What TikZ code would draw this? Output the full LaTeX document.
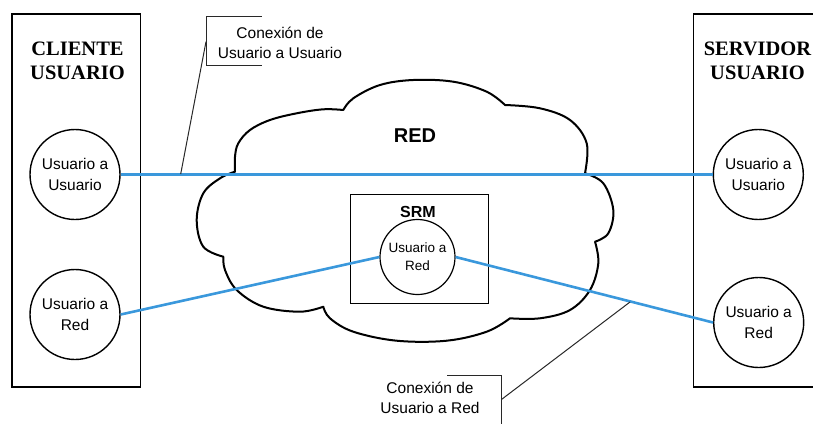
\documentclass[tikz,border=0pt]{standalone}
\usepackage{fontspec}
\setmainfont{Liberation Serif}
\setsansfont{Liberation Sans}
\definecolor{linkblue}{RGB}{58,152,220}
\definecolor{callgray}{RGB}{40,40,40}
\tikzset{
  usr/.style={circle, draw, line width=1.4pt, minimum size=90pt, inner sep=0pt, align=center,
    font=\sffamily\fontsize{15.5}{20.5}\selectfont},
  usrsmall/.style={circle, draw, line width=1.2pt, minimum size=75pt, inner sep=0pt, align=center,
    font=\sffamily\fontsize{13.5}{18}\selectfont},
  sidebox/.style={draw, line width=1.5pt, inner sep=0pt},
  sidetitle/.style={align=center, font=\bfseries\fontsize{20.5}{23.5}\selectfont},
  link/.style={draw=linkblue, line width=2.6pt},
  cloudline/.style={line width=2pt, line join=round},
  calltext/.style={align=center, font=\sffamily\fontsize{15.5}{20}\selectfont},
  bracketline/.style={draw=callgray, line width=1pt},
}
\begin{document}
\begin{tikzpicture}[x=1pt, y=-1pt]
\useasboundingbox (0,0) rectangle (813,423);
\fill[white] (0,0) rectangle (813,423);

% cloud
\draw[cloudline]
  plot[smooth, tension=0.6] coordinates {(235,171.7) (235,156.7) (238.3,143.3) (250,130) (270,120) (296.7,113.3) (323.3,109.3) (343.3,110)}
  -- plot[smooth, tension=0.6] coordinates {(343.3,110) (353.3,98.3) (380,85) (413.3,80) (453.3,81.7) (486.7,91.7) (505,105)}
  -- plot[smooth, tension=0.6] coordinates {(505,105) (540,108.3) (570,120) (586.7,143.3) (585,173.3)}
  -- plot[smooth, tension=0.6] coordinates {(585,173.3) (603.3,183.3) (613.3,210) (608.3,233.3) (595,241.7)}
  -- plot[smooth, tension=0.6] coordinates {(595,241.7) (598.3,263.3) (590,290) (570,310) (540,318.3) (510,318.3)}
  -- plot[smooth, tension=0.6] coordinates {(510,318.3) (486.7,331.7) (446.7,340.7) (396.7,340.7) (353.3,331.7) (330,318.3) (323.3,306.7)}
  -- plot[smooth, tension=0.6] coordinates {(323.3,306.7) (300,311.7) (263.3,306.7) (236.7,290) (225,270) (223.3,256.7)}
  -- plot[smooth, tension=0.6] coordinates {(223.3,256.7) (203.3,246.7) (196.7,220) (203.3,193.3) (220,178.3) (235,171.7)}
  -- cycle;
\node[font=\sffamily\bfseries\fontsize{20}{24}\selectfont] (red) at (415,136) {RED};

% side boxes
\node[sidebox, minimum width=128.5pt, minimum height=373pt] (cbox) at (76.3,200.5) {};
\node[sidebox, minimum width=128.5pt, minimum height=373pt] (sbox) at (757.5,200.5) {};
\node[sidetitle] (ctitle) at (77.5,61) {CLIENTE\\USUARIO};
\node[sidetitle] (stitle) at (757.5,61) {SERVIDOR\\USUARIO};

% user circles
\node[usr] (cu1) at (75,174.5) {Usuario a\\Usuario};
\node[usr] (cu2) at (75,314.5) {Usuario a\\Red};
\node[usr] (su1) at (758.3,174.5) {Usuario a\\Usuario};
\node[usr] (su2) at (758.7,322.5) {Usuario a\\Red};

% SRM
\node[draw, line width=1pt, minimum width=138pt, minimum height=109pt, inner sep=0pt] (srmbox) at (419,248.5) {};
\node[font=\sffamily\bfseries\fontsize{16}{19}\selectfont] (srmlabel) at (418,212) {SRM};
\node[usrsmall] (srm) at (417.5,257) {Usuario a\\Red};

% connections
\draw[link] (cu1.east) -- (su1.west);
\draw[link] (cu2.east) -- (srm.west);
\draw[link] (srm.east) -- (su2.west);

% callout 1
\node[calltext] (t1) at (280,43) {Conexión de\\Usuario a Usuario};
\draw[bracketline] (261.7,16) -| (206,65.7) -- (261.7,65.7);
\coordinate (b1) at (206,41.7);
\coordinate (e1) at (180.7,174);
\draw[bracketline] (b1) -- (e1);

% callout 2
\node[calltext] (t2) at (430,397.5) {Conexión de\\Usuario a Red};
\draw[bracketline] (447.3,375) -| (501.7,430);
\coordinate (b2) at (501.7,399.3);
\coordinate (e2) at (630,302);
\draw[bracketline] (b2) -- (e2);
\end{tikzpicture}
\end{document}
